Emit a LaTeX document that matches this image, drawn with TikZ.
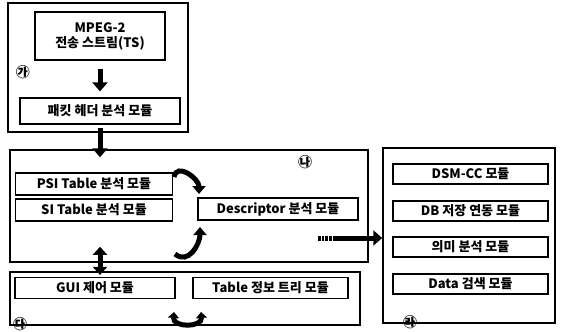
\documentclass[tikz,border=0pt]{standalone}
\usepackage{fontspec}
\setmainfont{Noto Sans CJK KR}
\usetikzlibrary{arrows.meta}
\begin{document}
\begin{tikzpicture}[x=1pt,y=-1pt,
  outer/.style={draw,line width=1.5pt,inner sep=0pt},
  mod/.style={draw,line width=1.2pt,inner sep=0pt,font=\fontsize{13}{15}\selectfont\bfseries},
  lab/.style={inner sep=0pt,font=\fontsize{14}{14}\selectfont\bfseries},
  blk/.style={line width=5pt,-{Triangle[length=9pt,width=15pt]}},
  blkd/.style={line width=5pt,{Triangle[length=8pt,width=14pt]}-{Triangle[length=8pt,width=14pt]}},
  crv/.style={line width=5pt,-{Triangle[length=8pt,width=13pt]}},
  crvd/.style={line width=5pt,{Triangle[length=6pt,width=11pt]}-{Triangle[length=6pt,width=11pt]}}]
\useasboundingbox (0,0) rectangle (565,332);
% outer boxes
\node[outer,minimum width=180pt,minimum height=129pt] (b1) at (98,67.5) {};
\node[outer,minimum width=358pt,minimum height=112pt] (b2) at (189,206) {};
\node[outer,minimum width=350pt,minimum height=53pt] (b3) at (185,298.5) {};
\node[outer,minimum width=172pt,minimum height=175pt] (b4) at (469,235.5) {};
% modules
\node[mod,minimum width=130pt,minimum height=48pt,align=center] (mpeg) at (100,36) {MPEG-2\\전송 스트림(TS)};
\node[mod,minimum width=160pt,minimum height=26pt] (pkt) at (100,111) {패킷 헤더 분석 모듈};
\node[mod,minimum width=157pt,minimum height=22pt] (psi) at (94,184) {PSI Table 분석 모듈};
\node[mod,minimum width=157pt,minimum height=22pt] (si) at (94,210) {SI Table 분석 모듈};
\node[mod,minimum width=160pt,minimum height=22pt] (desc) at (278,209) {Descriptor 분석 모듈};
\node[mod,minimum width=160pt,minimum height=21pt] (gui) at (95,288) {GUI 제어 모듈};
\node[mod,minimum width=155pt,minimum height=21pt] (tab) at (270.5,288) {Table 정보 트리 모듈};
\node[mod,minimum width=155pt,minimum height=20pt] (dsm) at (470.5,174) {DSM-CC 모듈};
\node[mod,minimum width=155pt,minimum height=20pt] (db) at (470.5,211) {DB 저장 연동 모듈};
\node[mod,minimum width=155pt,minimum height=20pt] (sem) at (470.5,247) {의미 분석 모듈};
\node[mod,minimum width=155pt,minimum height=20pt] (dat) at (470.5,284) {Data 검색 모듈};
% circled labels
\node[lab] (la) at (23,72) {㉮};
\node[lab] (lb) at (305,162) {㉯};
\node[lab] (lc) at (20,324) {㉰};
\node[lab] (ld) at (410,322) {㉱};
% straight arrows
\draw[blk,shorten <=8pt,shorten >=6pt] (mpeg.south) -- (pkt.north);
\draw[blk,shorten <=-5pt,shorten >=-8pt] (b1.south -| mpeg) -- (b2.north -| mpeg);
\draw[blkd,shorten <=-16pt,shorten >=2pt] (b2.south -| mpeg) -- (gui.north -| mpeg);
% curved arrows
\coordinate (t1) at (174,177);
\coordinate (t2) at (199,194);
\draw[crv] (t1) to[out=80,in=90,looseness=1.3] (t2);
\coordinate (u1) at (175,254);
\coordinate (u2) at (200,227);
\draw[crv] (u1) to[out=-40,in=-90,looseness=1.2] (u2);
\coordinate (v1) at (174,312);
\coordinate (v2) at (201,312);
\draw[crvd] (v1) to[out=-95,in=-85,looseness=1.5] (v2);
% dashed thick arrow
\coordinate (d0) at (318,238);
\coordinate (d1) at (334,238);
\draw[line width=5pt,dash pattern=on 2.5pt off 1.2pt] (d0) -- (d1);
\draw[blk] (d1) -- (b4.west |- d1);
\end{tikzpicture}
\end{document}
